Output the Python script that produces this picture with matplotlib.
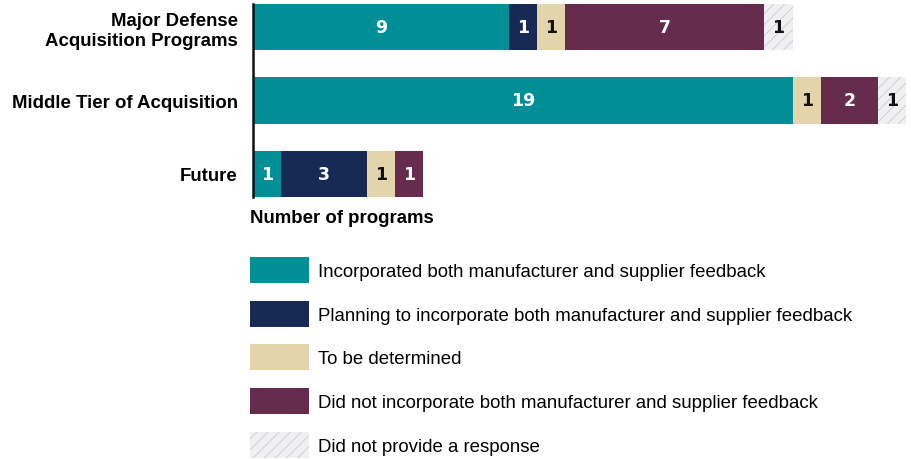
import matplotlib
matplotlib.use("Agg")
import matplotlib.pyplot as plt
from matplotlib.patches import Patch

categories = ["Major Defense\nAcquisition Programs", "Middle Tier of Acquisition", "Future"]
series_names = [
    "Incorporated both manufacturer and supplier feedback",
    "Planning to incorporate both manufacturer and supplier feedback",
    "To be determined",
    "Did not incorporate both manufacturer and supplier feedback",
    "Did not provide a response",
]
incorporated = [9, 19, 1]
planning = [1, 0, 3]
to_be_determined = [1, 1, 1]
did_not = [7, 2, 1]
no_response = [1, 1, 0]
axis_label = "Number of programs"

series_values = [incorporated, planning, to_be_determined, did_not, no_response]
fills = ["#008f96", "#172a55", "#e3d4ab", "#662c4d", "#f0f0f3"]
edges = ["none", "none", "none", "none", "#cfcfd5"]
hatches = [None, None, None, None, "///"]
text_colors = ["white", "white", "#111111", "white", "#111111"]

plt.rcParams["hatch.linewidth"] = 0.7
W, H = 912, 460
fig = plt.figure(figsize=(W / 100, H / 100), dpi=100)

# bar area in pixel coordinates
left_px, top_px, bottom_px = 253, 5, 198
ax = fig.add_axes([left_px / W, 1 - bottom_px / H, (W - left_px) / W, (bottom_px - top_px) / H])

px_per_unit = 28.4
ax.set_xlim(0, (W - left_px) / px_per_unit)
bar_h = 0.63
ax.set_ylim(len(categories) - 1 + bar_h / 2, -bar_h / 2)

label_font = dict(family="DejaVu Sans", weight="bold", size=12.5)
ypos = list(range(len(categories)))
lefts = [0] * len(categories)
for vals, fc, ec, hatch, tc in zip(series_values, fills, edges, hatches, text_colors):
    ax.barh(ypos, vals, left=lefts, height=bar_h, color=fc, edgecolor=ec,
            linewidth=0, hatch=hatch)
    for i, v in enumerate(vals):
        if v > 0:
            ax.text(lefts[i] + v / 2, ypos[i], str(v), ha="center", va="center",
                    color=tc, **label_font)
    lefts = [a + b for a, b in zip(lefts, vals)]

ax.set_yticks(ypos)
ax.set_yticklabels(categories, family="Liberation Sans", weight="bold", fontsize=13.4,
                   ha="right", linespacing=1.25)
ax.tick_params(axis="y", length=0, pad=11)
ax.set_xticks([])
for s in ["top", "right", "bottom"]:
    ax.spines[s].set_visible(False)
ax.spines["left"].set_linewidth(1.8)
ax.spines["left"].set_color("#111111")
ax.patch.set_alpha(0)

fig.text(250 / W, 1 - 219 / H, axis_label, family="Liberation Sans", weight="bold",
         fontsize=13.4, ha="left", va="center")

handles = [Patch(facecolor=fc, edgecolor=ec, hatch=h, linewidth=0)
           for fc, ec, h in zip(fills, edges, hatches)]
fs = 13.4
fs_px = fs * 100 / 72
fig.legend(handles, series_names, loc="upper left", bbox_to_anchor=(250 / W, 1 - 258 / H),
           frameon=False, prop=dict(family="Liberation Sans", size=fs),
           handlelength=59 / fs_px, handleheight=33 / fs_px,
           labelspacing=(44.7 - 27) / fs_px, handletextpad=9 / fs_px,
           borderpad=0, borderaxespad=0)

fig.savefig("out.png", dpi=100, facecolor="white")
